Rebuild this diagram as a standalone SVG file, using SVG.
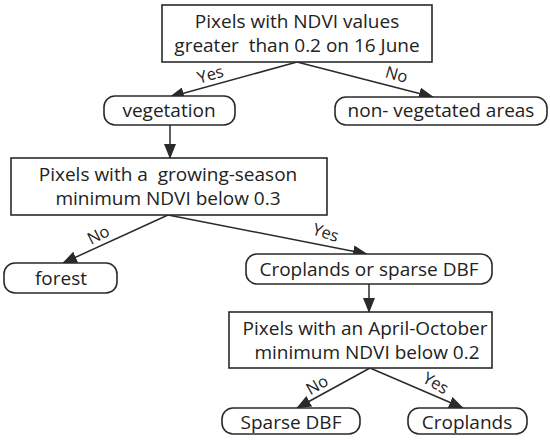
<svg xmlns="http://www.w3.org/2000/svg" width="550" height="444" viewBox="0 0 550 444">
<defs>
<marker id="ah" markerUnits="userSpaceOnUse" markerWidth="15" markerHeight="12" viewBox="0 0 15 12" refX="14" refY="6" orient="auto">
<path d="M0,0 L15,6 L0,12 Z" fill="#2a2a2a"/>
</marker>
<style>
.box{fill:#fff;stroke:#2a2a2a;stroke-width:1.6}
.t{font-family:"Open Sans","Noto Sans",sans-serif;font-size:19px;fill:#222;text-anchor:middle}
.l{font-family:"Open Sans","Noto Sans",sans-serif;font-size:16.5px;fill:#222;text-anchor:middle}
.c{stroke:#2a2a2a;stroke-width:1.5;fill:none;marker-end:url(#ah)}
</style>
</defs>
<rect width="550" height="444" fill="#fff"/>
<g id="connectors">
<line class="c" x1="297" y1="62" x2="170" y2="97"/>
<line class="c" x1="297" y1="62" x2="433" y2="97"/>
<line class="c" x1="170" y1="125" x2="170" y2="158"/>
<line class="c" x1="168" y1="215" x2="63" y2="263"/>
<line class="c" x1="168" y1="215" x2="367" y2="254"/>
<line class="c" x1="369" y1="284" x2="369" y2="312"/>
<line class="c" x1="370" y1="368" x2="297" y2="408"/>
<line class="c" x1="370" y1="368" x2="463" y2="408"/>
<text class="l" transform="translate(212,80) rotate(-16)">Yes</text>
<text class="l" transform="translate(395,80) rotate(16)">No</text>
<text class="l" transform="translate(101,240) rotate(-27)">No</text>
<text class="l" transform="translate(324,238) rotate(18)">Yes</text>
<text class="l" transform="translate(320,390) rotate(-30)">No</text>
<text class="l" transform="translate(433,388) rotate(30)">Yes</text>
</g>
<g id="n1">
<rect class="box" x="162" y="5" width="270" height="57"/>
<text class="t" x="297" y="28">Pixels with NDVI values</text>
<text class="t" x="297" y="52" xml:space="preserve">greater  than 0.2 on 16 June</text>
</g>
<g id="n2">
<rect class="box" x="104" y="96" width="131" height="29" rx="11"/>
<text class="t" x="169" y="117">vegetation</text>
</g>
<g id="n3">
<rect class="box" x="335" y="97" width="212" height="28" rx="11"/>
<text class="t" x="441" y="117">non- vegetated areas</text>
</g>
<g id="n4">
<rect class="box" x="11" y="158" width="316" height="57"/>
<text class="t" x="168" y="181" xml:space="preserve">Pixels with a  growing-season</text>
<text class="t" x="168" y="205">minimum NDVI below 0.3</text>
</g>
<g id="n5">
<rect class="box" x="4" y="263" width="113" height="30" rx="11"/>
<text class="t" x="61" y="285">forest</text>
</g>
<g id="n6">
<rect class="box" x="246" y="254" width="246" height="30" rx="11"/>
<text class="t" x="369" y="276">Croplands or sparse DBF</text>
</g>
<g id="n7">
<rect class="box" x="229" y="312" width="263" height="56"/>
<text class="t" x="365" y="335">Pixels with an April-October</text>
<text class="t" x="367" y="359">minimum NDVI below 0.2</text>
</g>
<g id="n8">
<rect class="box" x="222" y="408" width="138" height="26" rx="11"/>
<text class="t" x="291" y="429">Sparse DBF</text>
</g>
<g id="n9">
<rect class="box" x="408" y="408" width="119" height="26" rx="11"/>
<text class="t" x="467" y="429">Croplands</text>
</g>
</svg>
